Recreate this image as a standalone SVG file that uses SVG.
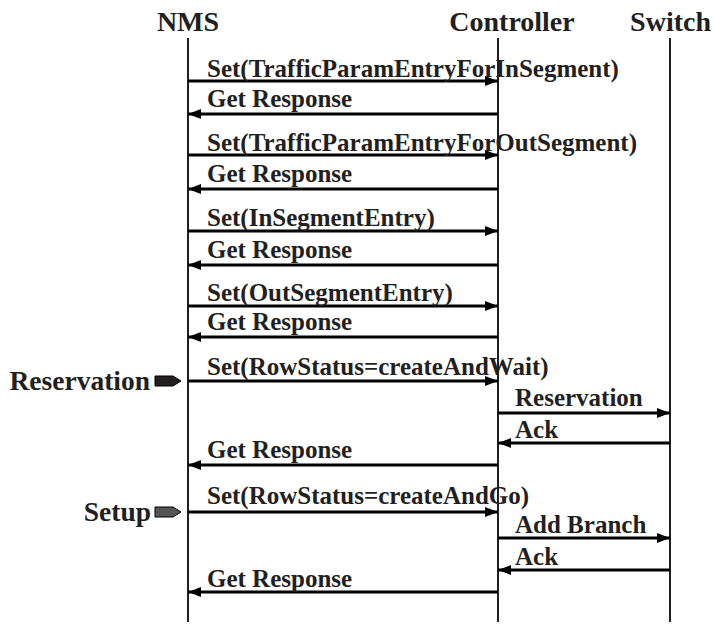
<svg xmlns="http://www.w3.org/2000/svg" width="715" height="625" viewBox="0 0 715 625">
<style>
text{font-family:"Liberation Serif","Times New Roman",serif;font-weight:bold;fill:#231f20}
.hd{font-size:28px}
.lb{font-size:25px}
.side{font-size:27.5px}
.life{stroke:#231f20;stroke-width:2;fill:none}
.msg{stroke:#000;stroke-width:2.8;fill:none}
</style>
<defs>
<marker id="ah" viewBox="0 0 13 10" refX="13" refY="5" markerWidth="13" markerHeight="10" markerUnits="userSpaceOnUse" orient="auto">
<path d="M0,0 L13,5 L0,10 z" fill="#000"/>
</marker>
</defs>
<rect width="715" height="625" fill="#fff"/>
<g id="nms">
<text class="hd" x="188" y="31" text-anchor="middle">NMS</text>
<line class="life" x1="188" y1="38" x2="188" y2="622"/>
</g>
<g id="controller">
<text class="hd" x="512" y="31" text-anchor="middle">Controller</text>
<line class="life" x1="498" y1="38" x2="498" y2="622"/>
</g>
<g id="switch">
<text class="hd" x="711" y="31" text-anchor="end">Switch</text>
<line class="life" x1="670" y1="38" x2="670" y2="622"/>
</g>
<g id="reservation-marker">
<text class="side" x="150" y="390" text-anchor="end">Reservation</text>
<path d="M155,376 L173,376 L181,381 L173,386 L155,386 z" fill="#231f20" stroke="#000" stroke-width="1"/>
</g>
<g id="setup-marker">
<text class="side" x="151" y="521" text-anchor="end">Setup</text>
<path d="M155,507 L173,507 L181,512 L173,517 L155,517 z" fill="#555" stroke="#000" stroke-width="1"/>
</g>
<g id="connectors">
<line class="msg" x1="188" y1="81" x2="498" y2="81" marker-end="url(#ah)"/>
<line class="msg" x1="498" y1="114" x2="188" y2="114" marker-end="url(#ah)"/>
<line class="msg" x1="188" y1="155" x2="498" y2="155" marker-end="url(#ah)"/>
<line class="msg" x1="498" y1="189" x2="188" y2="189" marker-end="url(#ah)"/>
<line class="msg" x1="188" y1="231" x2="498" y2="231" marker-end="url(#ah)"/>
<line class="msg" x1="498" y1="265" x2="188" y2="265" marker-end="url(#ah)"/>
<line class="msg" x1="188" y1="306" x2="498" y2="306" marker-end="url(#ah)"/>
<line class="msg" x1="498" y1="337" x2="188" y2="337" marker-end="url(#ah)"/>
<line class="msg" x1="188" y1="381" x2="498" y2="381" marker-end="url(#ah)"/>
<line class="msg" x1="498" y1="413" x2="670" y2="413" marker-end="url(#ah)"/>
<line class="msg" x1="670" y1="443" x2="498" y2="443" marker-end="url(#ah)"/>
<line class="msg" x1="498" y1="465" x2="188" y2="465" marker-end="url(#ah)"/>
<line class="msg" x1="188" y1="512" x2="498" y2="512" marker-end="url(#ah)"/>
<line class="msg" x1="498" y1="538" x2="670" y2="538" marker-end="url(#ah)"/>
<line class="msg" x1="670" y1="570" x2="498" y2="570" marker-end="url(#ah)"/>
<line class="msg" x1="498" y1="592" x2="188" y2="592" marker-end="url(#ah)"/>
</g>
<g id="labels">
<text class="lb" x="207" y="77">Set(TrafficParamEntryForInSegment)</text>
<text class="lb" x="207" y="107">Get Response</text>
<text class="lb" x="207" y="151">Set(TrafficParamEntryForOutSegment)</text>
<text class="lb" x="207" y="182">Get Response</text>
<text class="lb" x="207" y="226">Set(InSegmentEntry)</text>
<text class="lb" x="207" y="258">Get Response</text>
<text class="lb" x="207" y="301">Set(OutSegmentEntry)</text>
<text class="lb" x="207" y="330">Get Response</text>
<text class="lb" x="207" y="375">Set(RowStatus=createAndWait)</text>
<text class="lb" x="515" y="406">Reservation</text>
<text class="lb" x="515" y="438">Ack</text>
<text class="lb" x="207" y="458">Get Response</text>
<text class="lb" x="207" y="504">Set(RowStatus=createAndGo)</text>
<text class="lb" x="515" y="533">Add Branch</text>
<text class="lb" x="515" y="565">Ack</text>
<text class="lb" x="207" y="587">Get Response</text>
</g>
</svg>
